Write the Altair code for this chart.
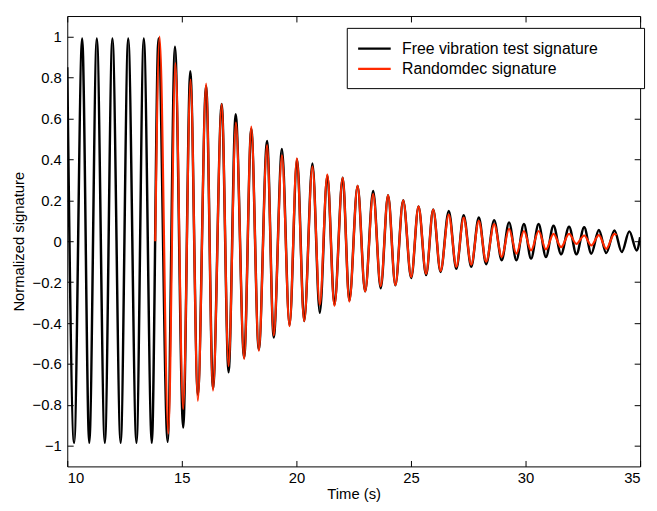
import altair as alt
import pandas as pd

# Extrema (time, value)
black_t = [10.00, 10.30, 10.65, 10.96, 11.29, 11.64, 11.97, 12.33, 12.66, 13.02,
           13.34, 13.69, 13.98, 14.38, 14.70, 15.06, 15.37, 15.70, 16.06, 16.36,
           16.74, 17.04, 17.35, 17.72, 18.03, 18.36, 18.72, 19.01, 19.37, 19.70,
           20.03, 20.34, 20.70, 21.02, 21.35, 21.66, 22.02, 22.31, 22.67, 23.00,
           23.35, 23.68, 24.00, 24.32, 24.66, 25.01, 25.33, 25.66, 25.97, 26.29,
           26.65, 26.98, 27.30, 27.63, 27.96, 28.28, 28.63, 28.96, 29.28, 29.60,
           29.93, 30.24, 30.57, 30.89, 31.22, 31.55, 31.90, 32.22, 32.56, 32.87,
           33.20, 33.52, 33.88, 34.20, 34.53, 34.85, 35.00]
black_v = [0.85, -0.985, 0.99, -0.985, 0.99, -0.985, 0.99, -0.985, 0.99, -0.985,
           0.99, -0.985, 0.99, -0.98, 0.95, -0.91, 0.83, -0.75, 0.76, -0.72,
           0.67, -0.64, 0.62, -0.57, 0.55, -0.53, 0.49, -0.47, 0.45, -0.41,
           0.40, -0.39, 0.38, -0.35, 0.32, -0.31, 0.31, -0.29, 0.27, -0.245,
           0.245, -0.23, 0.225, -0.215, 0.20, -0.18, 0.17, -0.165, 0.155, -0.15,
           0.148, -0.135, 0.127, -0.125, 0.116, -0.112, 0.103, -0.093, 0.092, -0.093,
           0.084, -0.085, 0.084, -0.077, 0.076, -0.064, 0.071, -0.064, 0.068, -0.061,
           0.055, -0.058, 0.052, -0.053, 0.048, -0.045, 0.02]

red_t = [13.84, 14.03, 14.41, 14.72, 15.06, 15.38, 15.70, 16.06, 16.36, 16.74,
         17.04, 17.36, 17.72, 18.03, 18.36, 18.72, 19.01, 19.37, 19.70, 20.02,
         20.34, 20.70, 21.02, 21.35, 21.66, 22.02, 22.31, 22.67, 23.00, 23.35,
         23.68, 24.00, 24.32, 24.66, 25.01, 25.33, 25.66, 25.97, 26.29, 26.65,
         26.98, 27.30, 27.63, 27.96, 28.28, 28.63, 28.96, 29.28, 29.60, 29.93,
         30.24, 30.57, 30.89, 31.22, 31.55, 31.90, 32.22, 32.56, 32.87, 33.20,
         33.52, 33.88, 33.97]
red_v = [0.0, 1.0, -0.94, 0.87, -0.82, 0.79, -0.78, 0.77, -0.73, 0.67,
         -0.61, 0.58, -0.575, 0.56, -0.535, 0.47, -0.46, 0.42, -0.415, 0.405,
         -0.39, 0.365, -0.31, 0.325, -0.315, 0.31, -0.295, 0.27, -0.245, 0.23,
         -0.22, 0.225, -0.215, 0.20, -0.175, 0.17, -0.16, 0.155, -0.145, 0.13,
         -0.125, 0.115, -0.115, 0.10, -0.10, 0.084, -0.077, 0.06, -0.061, 0.05,
         -0.045, 0.05, -0.04, 0.036, -0.029, 0.036, -0.013, 0.028, -0.021, 0.03,
         -0.037, 0.036, 0.03]

series_names = ["Free vibration test signature", "Randomdec signature"]
series_colors = ["#000000", "#ff2a00"]
x_ticks = [10, 15, 20, 25, 30, 35]
y_ticks = [-1, -0.8, -0.6, -0.4, -0.2, 0, 0.2, 0.4, 0.6, 0.8, 1]

df = pd.DataFrame({
    "t": black_t + red_t,
    "v": black_v + red_v,
    "series": [series_names[0]] * len(black_t) + [series_names[1]] * len(red_t),
})

FONT = "Liberation Sans"

xs = alt.Scale(domain=[10, 35], nice=False, zero=False)
ys = alt.Scale(domain=[-1.1, 1.1], nice=False, zero=False)

axis_common = dict(grid=False, domain=False, ticks=True, tickSize=6, tickColor="black",
                   tickWidth=1, offset=-6, labelFont=FONT, labelFontSize=15,
                   labelColor="black", titleFont=FONT, titleFontSize=15,
                   titleColor="black", titleFontWeight="normal")

color = alt.Color(
    "series:N",
    scale=alt.Scale(domain=series_names, range=series_colors),
    legend=alt.Legend(
        title="\u00a0", titleOrient="right", titlePadding=36, titleFontSize=4,
        orient="none", legendX=283, legendY=12, direction="vertical",
        fillColor="white", strokeColor="black", padding=11,
        symbolType="M-1.94,0H1.94", symbolSize=289, symbolStrokeWidth=2.5,
        symbolOffset=7,
        labelFont=FONT, labelFontSize=16, labelColor="black", labelOffset=18,
        labelLimit=400, rowPadding=2.5,
    ),
)

base = alt.Chart(df)

black = base.transform_filter(alt.datum.series == series_names[0]).mark_line(
    strokeWidth=2.5, interpolate="monotone", clip=True
).encode(
    x=alt.X("t:Q", scale=xs, axis=alt.Axis(orient="bottom", values=x_ticks, title="Time (s)",
                                          labelPadding=4, titlePadding=2, **axis_common)),
    y=alt.Y("v:Q", scale=ys, axis=alt.Axis(orient="left", values=y_ticks, format=".1~f",
                                          title="Normalized signature", labelPadding=6,
                                          titlePadding=6, **axis_common)),
    color=color,
    order=alt.Order("t:Q"),
)

red = base.transform_filter(alt.datum.series == series_names[1]).mark_line(
    strokeWidth=2.2, interpolate="monotone", clip=True
).encode(
    x=alt.X("t:Q", scale=xs, axis=alt.Axis(orient="top", values=x_ticks, title=None,
                                          labels=False, **axis_common)),
    y=alt.Y("v:Q", scale=ys, axis=alt.Axis(orient="right", values=y_ticks, title=None,
                                          labels=False, **axis_common)),
    color=color,
    order=alt.Order("t:Q"),
)

chart = alt.layer(black, red).resolve_axis(x="independent", y="independent").properties(
    width=580, height=456,
    autosize=alt.AutoSizeParams(type="none"),
    padding={"left": 60, "top": 5, "right": 9, "bottom": 40},
).configure_view(stroke="black", strokeWidth=1)

chart.save("out.html", embed_options={"renderer": "svg", "actions": False})
